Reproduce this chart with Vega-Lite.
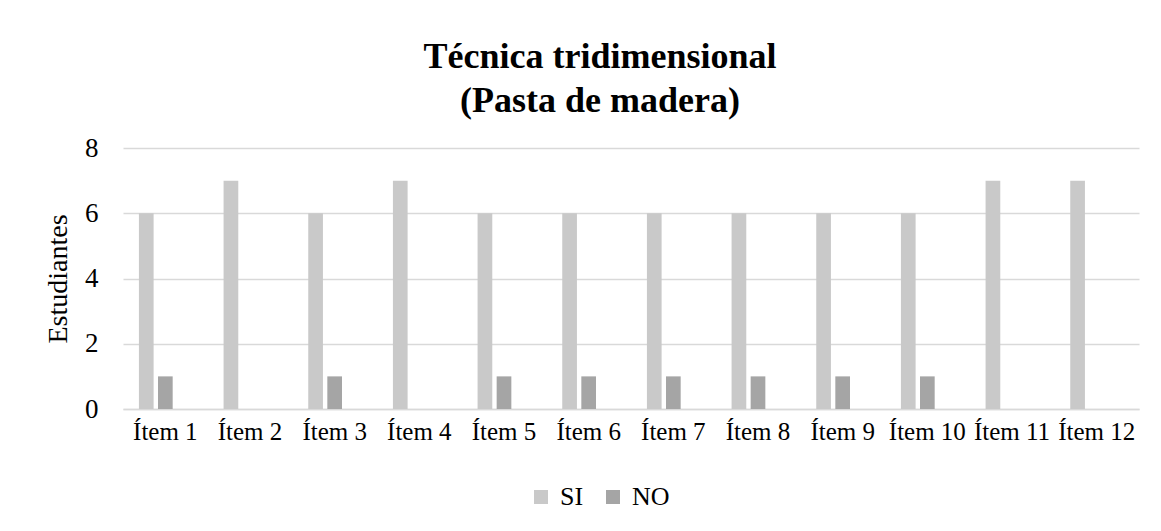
{
  "$schema": "https://vega.github.io/schema/vega-lite/v6.json",
  "autosize": {"type": "none"},
  "width": 1016,
  "height": 261,
  "padding": {"left": 123, "top": 148, "right": 22, "bottom": 122},
  "background": "white",
  "title": {
    "text": ["Técnica tridimensional", "(Pasta de madera)"],
    "font": "Liberation Serif",
    "fontSize": 36,
    "fontWeight": "bold",
    "color": "#000000",
    "lineHeight": 44,
    "anchor": "middle",
    "dx": -31,
    "offset": 14
  },
  "data": {
    "values": [
      {"item": "Ítem 1", "serie": "SI", "valor": 6}, {"item": "Ítem 1", "serie": "NO", "valor": 1},
      {"item": "Ítem 2", "serie": "SI", "valor": 7}, {"item": "Ítem 2", "serie": "NO", "valor": 0},
      {"item": "Ítem 3", "serie": "SI", "valor": 6}, {"item": "Ítem 3", "serie": "NO", "valor": 1},
      {"item": "Ítem 4", "serie": "SI", "valor": 7}, {"item": "Ítem 4", "serie": "NO", "valor": 0},
      {"item": "Ítem 5", "serie": "SI", "valor": 6}, {"item": "Ítem 5", "serie": "NO", "valor": 1},
      {"item": "Ítem 6", "serie": "SI", "valor": 6}, {"item": "Ítem 6", "serie": "NO", "valor": 1},
      {"item": "Ítem 7", "serie": "SI", "valor": 6}, {"item": "Ítem 7", "serie": "NO", "valor": 1},
      {"item": "Ítem 8", "serie": "SI", "valor": 6}, {"item": "Ítem 8", "serie": "NO", "valor": 1},
      {"item": "Ítem 9", "serie": "SI", "valor": 6}, {"item": "Ítem 9", "serie": "NO", "valor": 1},
      {"item": "Ítem 10", "serie": "SI", "valor": 6}, {"item": "Ítem 10", "serie": "NO", "valor": 1},
      {"item": "Ítem 11", "serie": "SI", "valor": 7}, {"item": "Ítem 11", "serie": "NO", "valor": 0},
      {"item": "Ítem 12", "serie": "SI", "valor": 7}, {"item": "Ítem 12", "serie": "NO", "valor": 0}
    ]
  },
  "mark": {"type": "bar"},
  "encoding": {
    "x": {
      "field": "item",
      "type": "nominal",
      "sort": null,
      "title": null,
      "scale": {"paddingInner": 0.376, "paddingOuter": 0.188},
      "axis": {
        "labelAngle": 0,
        "labelFont": "Liberation Serif",
        "labelFontSize": 25,
        "labelColor": "#000000",
        "ticks": false,
        "labelPadding": 10,
        "domainColor": "#d9d9d9",
        "domainWidth": 1.5,
        "grid": false
      }
    },
    "xOffset": {
      "field": "serie",
      "type": "nominal",
      "scale": {"domain": ["SI", "NO", "_"], "paddingInner": 0.23, "paddingOuter": 0}
    },
    "y": {
      "field": "valor",
      "type": "quantitative",
      "title": "Estudiantes",
      "scale": {"domain": [0, 8], "nice": false},
      "axis": {
        "values": [0, 2, 4, 6, 8],
        "labelFont": "Liberation Serif",
        "labelFontSize": 27,
        "labelColor": "#000000",
        "labelPadding": 25,
        "ticks": false,
        "domain": false,
        "gridColor": "#d9d9d9",
        "gridWidth": 1.5,
        "titleFont": "Liberation Serif",
        "titleFontSize": 28,
        "titleFontWeight": "normal",
        "titleColor": "#000000",
        "titlePadding": 12
      }
    },
    "color": {
      "field": "serie",
      "type": "nominal",
      "scale": {"domain": ["SI", "NO"], "range": ["#c9c9c9", "#a5a5a5"]},
      "legend": {
        "title": null,
        "orient": "none",
        "direction": "horizontal",
        "legendX": 405,
        "legendY": 336,
        "padding": 0,
        "symbolType": "square",
        "symbolSize": 196,
        "symbolStrokeWidth": 0,
        "labelFont": "Liberation Serif",
        "labelFontSize": 26,
        "labelColor": "#000000",
        "labelOffset": 6,
        "columnPadding": 16
      }
    }
  },
  "config": {"font": "Liberation Serif", "view": {"stroke": null}}
}
